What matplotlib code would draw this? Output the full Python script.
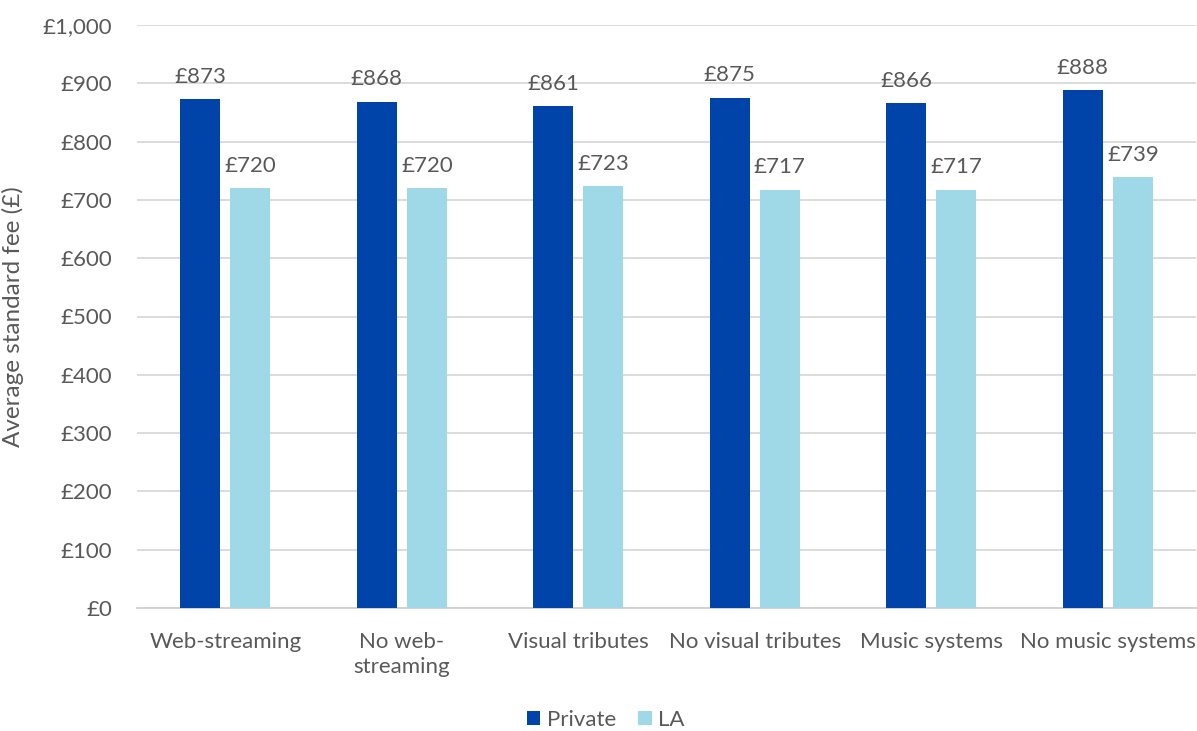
import matplotlib
matplotlib.use("Agg")
import matplotlib.pyplot as plt
import numpy as np

categories = ["Web-streaming", "No web-\nstreaming", "Visual tributes",
              "No visual tributes", "Music systems", "No music systems"]
private = [873, 868, 861, 875, 866, 888]
la = [720, 720, 723, 717, 717, 739]
yticks = list(range(0, 1001, 100))

plt.rcParams['font.family'] = ['Lato', 'DejaVu Sans']
grey = '#595959'
c_private = '#0044AA'
c_la = '#9FD9E8'

fig = plt.figure(figsize=(11.97, 7.31), dpi=100)
ax = fig.add_axes([137/1197, 1-608/731, 1059/1197, (608-25)/731])

x = np.arange(len(categories))
w = 0.226
off = 0.142
b1 = ax.bar(x - off, private, w, color=c_private, label='Private', zorder=3)
b2 = ax.bar(x + off, la, w, color=c_la, label='LA', zorder=3)

for bars, vals in ((b1, private), (b2, la)):
    for rect, v in zip(bars, vals):
        ax.annotate(f"£{v}", (rect.get_x() + rect.get_width()/2, v),
                    xytext=(0, 9), textcoords='offset points',
                    ha='center', va='bottom', fontsize=16, color=grey)

ax.set_xlim(-0.5, len(categories) - 0.5)
ax.set_ylim(0, 1000)
ax.set_yticks(yticks)
ax.set_yticklabels([f"£{v:,}" for v in yticks])
ax.set_xticks(x)
ax.set_xticklabels(categories, linespacing=1.35)
ax.tick_params(axis='both', length=0, colors=grey, labelsize=16)
ax.tick_params(axis='x', pad=17)
ax.tick_params(axis='y', pad=18)
ax.yaxis.grid(True, color='#D9D9D9', linewidth=1.3, zorder=0)
ax.set_axisbelow(True)
for s in ['top', 'right', 'left']:
    ax.spines[s].set_visible(False)
ax.spines['bottom'].set_color('#D0D0D0')
ax.spines['bottom'].set_linewidth(1.3)
ax.set_ylabel("Average standard fee (£)", fontsize=17.5, color=grey)
ax.yaxis.set_label_coords(-0.107, 0.5)

leg = fig.legend(handles=[b1, b2], labels=['Private', 'LA'], loc='center',
                 bbox_to_anchor=(606/1197, 1-720/731), ncol=2, frameon=False,
                 fontsize=16, handlelength=0.6, handleheight=0.6,
                 handletextpad=0.3, columnspacing=1.0)
for t in leg.get_texts():
    t.set_color(grey)

fig.savefig("out.png", dpi=100)
